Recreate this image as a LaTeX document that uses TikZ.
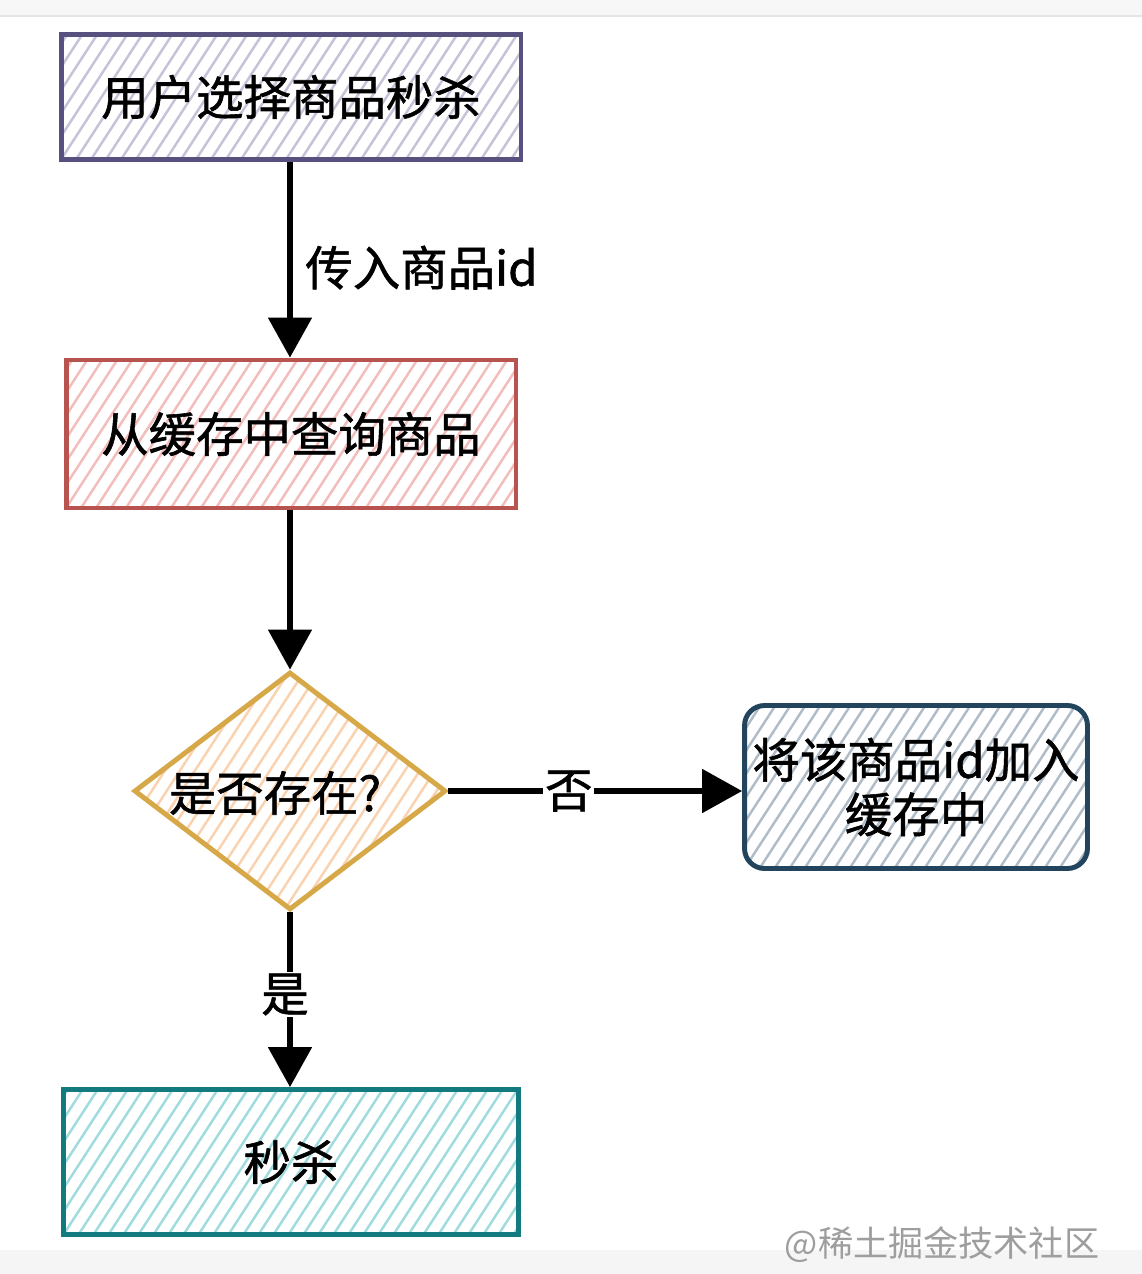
\documentclass[tikz,border=0pt]{standalone}
\usepackage{fontspec}
\setmainfont{Noto Sans CJK SC}[RawFeature={embolden=1.2}]
\newfontfamily\wmfont{Noto Sans CJK SC}
\usetikzlibrary{shapes.geometric,arrows.meta,calc}
\definecolor{purpS}{HTML}{56517E}\definecolor{purpF}{HTML}{C6C3D8}
\definecolor{redS}{HTML}{B85450}\definecolor{redF}{HTML}{F3BDBB}
\definecolor{yelS}{HTML}{D6A847}\definecolor{yelF}{HTML}{FBD2B0}
\definecolor{bluS}{HTML}{23445D}\definecolor{bluF}{HTML}{B0BCC8}
\definecolor{tealS}{HTML}{137A7F}\definecolor{tealF}{HTML}{A0DCDD}
\newcommand\mainfs{\fontsize{27pt}{31pt}\selectfont}
\begin{document}
\begin{tikzpicture}[x=0.02cm,y=-0.02cm,
  hatch/.style={path picture={\foreach \i in {-30,...,40}{\draw[#1,line width=1.4pt]
      ([xshift={\i*0.3cm}]path picture bounding box.south west) -- ++(57:7cm);}}},
  box/.style 2 args={draw=#1, line width=2.8pt, hatch=#2, inner sep=0pt, font=\mainfs},
  arr/.style={line width=3pt, -{Triangle[length=0.8cm,width=0.86cm]}},
  lab/.style={font=\mainfs, inner sep=1pt}]
\useasboundingbox (0,0) rectangle (1142,1274);
\fill[white] (0,0) rectangle (1142,1274);
\fill[black!3] (0,0) rectangle (1142,16);
\draw[black!10, line width=0.6pt] (0,16) -- (1142,16);
\fill[black!4] (0,1250) rectangle (1142,1274);

\node[box={purpS}{purpF}, minimum width=9.2cm, minimum height=2.5cm] (a) at (291,97) {用户选择商品秒杀};
\node[box={redS}{redF}, minimum width=9.0cm, minimum height=2.96cm] (b) at (291,434) {从缓存中查询商品};
\node[diamond, draw=yelS, line width=2.8pt, hatch=yelF, minimum width=6.24cm, minimum height=4.76cm, inner sep=0pt] (c) at (290,791) {};
\node[lab] (ct) at (275,793) {是否存在?};
\node[box={bluS}{bluF}, rounded corners=0.4cm, minimum width=6.86cm, minimum height=3.26cm, align=center] (d) at (916,787) {将该商品id加入\\缓存中};
\node[box={tealS}{tealF}, minimum width=9.1cm, minimum height=2.9cm] (e) at (291,1162) {秒杀};

\draw[arr] (a.south -| c.north) -- (b.north -| c.north) node[pos=0.54, anchor=west, xshift=0.22cm, lab] {传入商品id};
\draw[arr] (b.south -| c.north) -- (c.north);
\draw[arr] (c.east) -- (c.east -| d.west) node[pos=0.41, fill=white, lab] {否};
\draw[arr] (c.south) -- (e.north -| c.south) node[pos=0.47, fill=white, lab, xshift=-0.1cm] {是};

\node[font=\wmfont\fontsize{20pt}{24pt}\selectfont, text=black!38] (wm) at (942,1245) {@稀土掘金技术社区};
\end{tikzpicture}
\end{document}
